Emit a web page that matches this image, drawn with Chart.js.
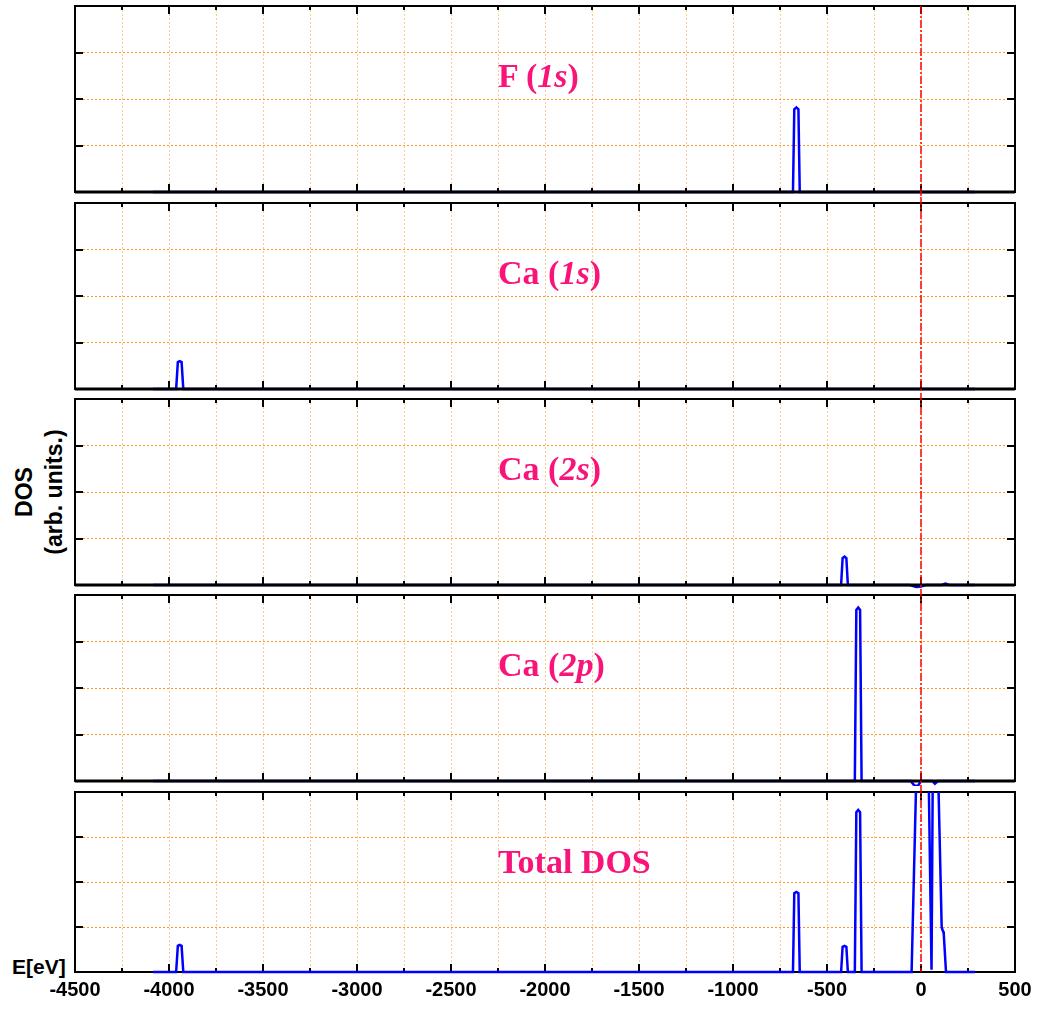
<!DOCTYPE html>
<html>
<head>
<meta charset="utf-8">
<script src="https://cdn.jsdelivr.net/npm/chart.js@4.4.1/dist/chart.umd.min.js"></script>
<style>
  body { margin: 0; background: #fff; width: 1040px; height: 1010px; position: relative; overflow: hidden; }
  .panel { position: absolute; left: 0; width: 1040px; }
  .title { position: absolute; left: 498px; font-family: 'Liberation Serif', 'Times New Roman', serif; font-weight: bold;
           font-size: 34px; line-height: 34px; color: #f81478; white-space: nowrap; }
  .title i { font-style: italic; }
  #ylabel { position: absolute; left: -61.5px; top: 462px; width: 200px; height: 60px; transform: rotate(-90deg);
            text-align: center; font-family: 'Liberation Sans', Arial, sans-serif; font-weight: bold; font-size: 23px; line-height: 30px; }
  #xlabel { position: absolute; left: 12px; top: 956px; font-family: 'Liberation Sans', Arial, sans-serif; font-weight: bold;
            font-size: 21px; line-height: 21px; }
</style>
</head>
<body>
<div id="ylabel">DOS<br>(arb. units.)</div>
<div id="xlabel">E[eV]</div>
<script>
// energy axis
const xMin = -4500;
const xMax = 500;
const xStep = 250;
const xLabelStep = 500;
// DOS axis (arb. units)
const yMin = 0;
const yMax = 4;

const titles = ['F (<i>1s</i>)', 'Ca (<i>1s</i>)', 'Ca (<i>2s</i>)', 'Ca (<i>2p</i>)', 'Total DOS'];

// F 1s
const f1sE   = [-4085, -681, -674, -663, -652, -645, 287];
const f1sDos = [0, 0, 1.78, 1.82, 1.78, 0, 0];

// Ca 1s
const ca1sE   = [-4085, -3962, -3953, -3943, -3933, -3924, 287];
const ca1sDos = [0, 0, 0.58, 0.6, 0.58, 0, 0];

// Ca 2s
const ca2sE   = [-4085, -425, -417, -407, -397, -389, -60, -25, 0, 25, 110, 130, 150, 287];
const ca2sDos = [0, 0, 0.58, 0.61, 0.58, 0, 0, -0.04, -0.03, 0, 0, 0.03, 0, 0];

// Ca 2p
const ca2pE   = [-4085, -352, -344, -334, -324, -316, -55, -35, -15, 0, 60, 74, 90, 287];
const ca2pDos = [0, 0, 3.68, 3.73, 3.68, 0, 0, -0.1, -0.1, 0, 0, -0.06, 0, 0];

// Total DOS
const totalE   = [-4085, -3962, -3953, -3943, -3933, -3924, -681, -674, -663, -652, -645,
                  -425, -417, -407, -397, -389, -352, -344, -334, -324, -316,
                  -50, -27, 0, 30, 42, 56, 62, 78, 93, 110, 113, 118, 121, 133, 287];
const totalDos = [0, 0, 0.58, 0.6, 0.58, 0, 0, 1.75, 1.78, 1.75, 0,
                  0, 0.56, 0.58, 0.56, 0, 0, 3.55, 3.6, 3.55, 0,
                  0, 4.0, 8, 6, 4.0, 0.05, 4.0, 7, 4.1, 1.0, 0.95, 0.9, 0.85, 0, 0];

const series = [[f1sE, f1sDos], [ca1sE, ca1sDos], [ca2sE, ca2sDos], [ca2pE, ca2pDos], [totalE, totalDos]];

// layout of the stacked panels
const canvasTops = [0, 197, 393, 589, 786];
const canvasHeights = [197, 196, 196, 197, 224];
const padBottoms = [5, 4, 4, 5, 2];

const tickFont = { family: "'Liberation Sans', Arial, sans-serif", size: 20, weight: 'bold' };

// frame with inward ticks
function drawFrame(chart, onTop) {
    const ctx = chart.ctx;
    const a = chart.chartArea;
    const xs = chart.scales.x;
    const ys = chart.scales.y;
    ctx.save();
    ctx.strokeStyle = '#000';
    ctx.lineWidth = 2;
    ctx.strokeRect(a.left, a.top, a.right - a.left, a.bottom - a.top);
    if (onTop) {
        ctx.lineWidth = 2.8;
        ctx.beginPath();
        ctx.moveTo(a.left, a.bottom); ctx.lineTo(a.right, a.bottom);
        ctx.stroke();
        ctx.lineWidth = 2;
    }
    ctx.beginPath();
    xs.ticks.forEach(t => {
        if (t.value <= xMin || t.value >= xMax) return;
        const px = Math.round(xs.getPixelForValue(t.value));
        const len = t.value % xLabelStep === 0 ? 8 : 4;
        ctx.moveTo(px, a.bottom); ctx.lineTo(px, a.bottom - len);
        ctx.moveTo(px, a.top); ctx.lineTo(px, a.top + len);
    });
    ys.ticks.forEach(t => {
        if (t.value <= yMin || t.value >= yMax) return;
        const py = Math.round(ys.getPixelForValue(t.value));
        ctx.moveTo(a.left, py); ctx.lineTo(a.left + 8, py);
        ctx.moveTo(a.right, py); ctx.lineTo(a.right - 8, py);
    });
    ctx.stroke();
    ctx.restore();
}

// Fermi level line at E = 0
function drawZeroLine(chart, opts) {
    const ctx = chart.ctx;
    const a = chart.chartArea;
    const px = Math.round(chart.scales.x.getPixelForValue(0));
    const y0 = opts.first ? a.top : 0;
    const y1 = opts.last ? a.bottom : chart.height;
    ctx.save();
    ctx.strokeStyle = '#ff0000';
    ctx.lineWidth = 1.5;
    ctx.setLineDash([8, 2, 2, 2]);
    ctx.beginPath();
    ctx.moveTo(px, y0);
    ctx.lineTo(px, y1);
    ctx.stroke();
    ctx.restore();
}

const framePlugin = {
    id: 'frame',
    beforeDatasetsDraw(chart, args, opts) {
        if (!opts.onTop) drawFrame(chart, false);
    },
    afterDatasetsDraw(chart, args, opts) {
        if (opts.onTop) drawFrame(chart, true);
        drawZeroLine(chart, opts);
    }
};

function createPanel(i) {
    const last = i === series.length - 1;
    const wrap = document.createElement('div');
    wrap.className = 'panel';
    wrap.style.top = canvasTops[i] + 'px';
    wrap.style.height = canvasHeights[i] + 'px';
    const canvas = document.createElement('canvas');
    wrap.appendChild(canvas);
    document.body.appendChild(wrap);

    const title = document.createElement('div');
    title.className = 'title';
    title.innerHTML = titles[i];
    title.style.top = (canvasTops[i] + 6 + 52.5) + 'px';
    document.body.appendChild(title);

    const [e, dos] = series[i];
    new Chart(canvas.getContext('2d'), {
        type: 'line',
        data: {
            datasets: [{
                data: e.map((v, k) => ({ x: v, y: dos[k] })),
                borderColor: '#0000ff',
                borderWidth: 2.5,
                pointRadius: 0,
                tension: 0,
                fill: false,
                clip: { left: 0, top: 0, right: 0, bottom: 6 }
            }]
        },
        options: {
            responsive: true,
            maintainAspectRatio: false,
            animation: false,
            layout: { padding: { top: 6, left: 75, right: 25, bottom: padBottoms[i] } },
            plugins: {
                legend: { display: false },
                tooltip: { enabled: false },
                frame: { onTop: !last, first: i === 0, last: last }
            },
            scales: {
                x: {
                    type: 'linear',
                    min: xMin,
                    max: xMax,
                    ticks: {
                        display: last,
                        stepSize: xStep,
                        autoSkip: false,
                        maxRotation: 0,
                        padding: 6,
                        color: '#000',
                        font: tickFont,
                        callback: v => (v % xLabelStep === 0 ? v : '')
                    },
                    grid: { color: 'rgba(255,165,70,0.6)', lineWidth: 1, drawTicks: false },
                    border: { display: false, dash: [2, 2] }
                },
                y: {
                    min: yMin,
                    max: yMax,
                    ticks: { display: false, stepSize: 1 },
                    grid: { color: 'rgba(255,140,0,0.9)', lineWidth: 1, drawTicks: false },
                    border: { display: false, dash: [2, 2] }
                }
            }
        },
        plugins: [framePlugin]
    });
}

for (let i = 0; i < series.length; i++) createPanel(i);
</script>
</body>
</html>
